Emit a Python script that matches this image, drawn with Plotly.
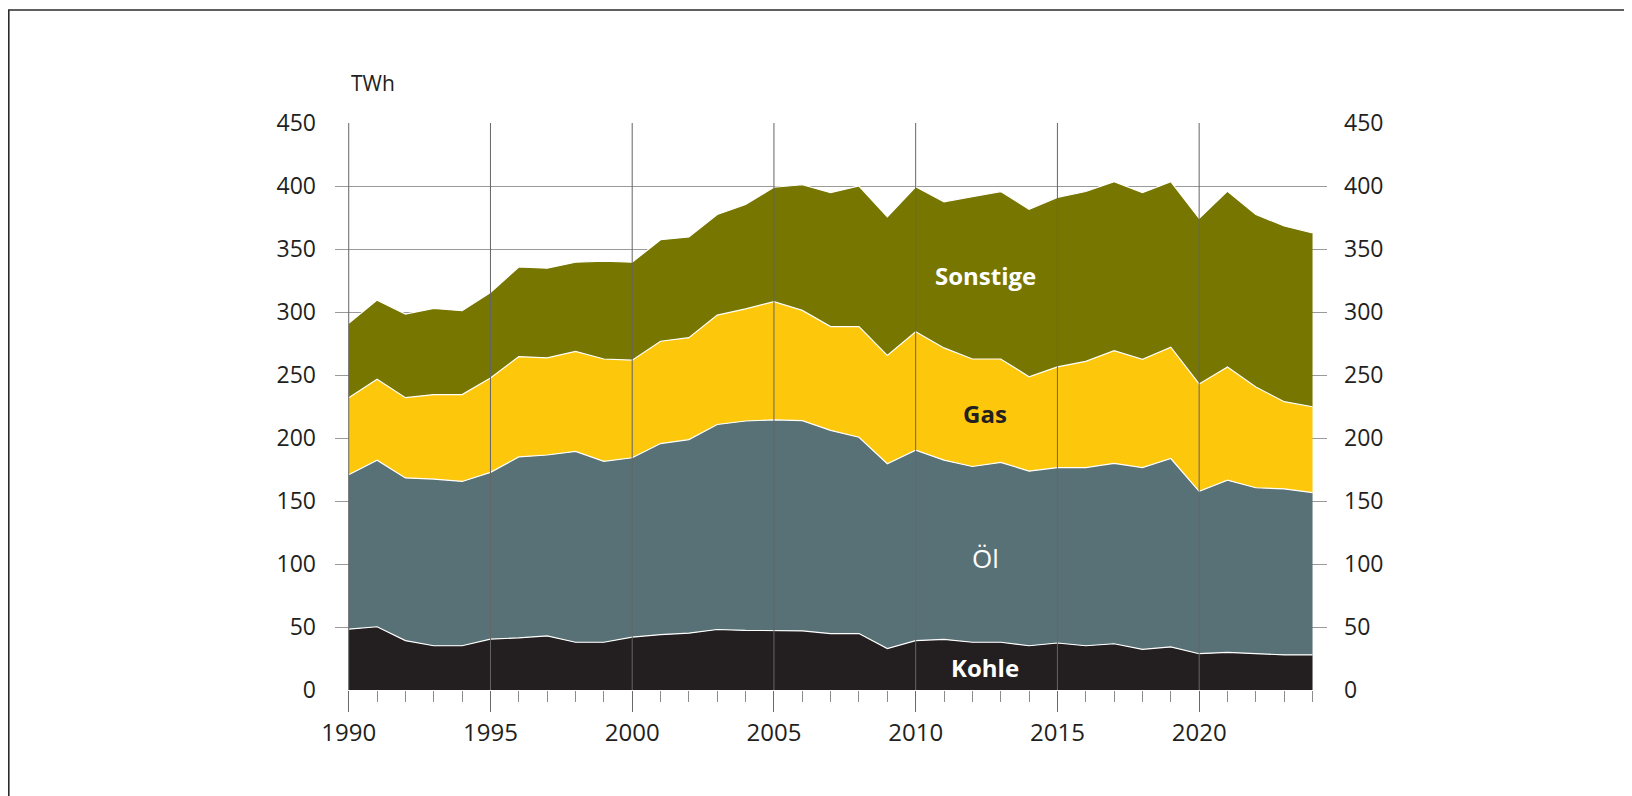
import plotly.graph_objects as go

years = list(range(1990, 2025))
kohle = [48.3, 50.2, 39.2, 35.1, 35.1, 40.4, 41.4, 42.9, 37.9, 37.9, 42.0, 43.9, 45.1, 48.0, 47.3,
         47.0, 47.0, 44.8, 44.8, 32.9, 39.2, 40.1, 37.9, 37.9, 35.1, 37.3, 35.1, 36.7, 32.3, 34.2,
         28.8, 29.8, 28.8, 27.9, 27.9]
oel = [122.5, 132.2, 129.1, 132.3, 130.4, 132.3, 143.6, 143.6, 151.4, 143.6, 142.3, 151.7, 153.6, 162.7, 166.2,
       167.4, 166.8, 161.2, 155.8, 146.7, 151.1, 142.3, 139.5, 142.7, 138.6, 139.2, 141.4, 143.2, 144.2, 149.5,
       128.9, 136.7, 131.7, 131.7, 128.8]
gas = [61.2, 64.3, 63.7, 67.1, 69.0, 74.9, 79.6, 77.1, 79.4, 81.2, 77.5, 81.2, 80.9, 86.8, 89.0,
       93.8, 87.5, 82.4, 87.8, 85.9, 94.0, 89.1, 85.3, 82.1, 74.9, 79.9, 84.3, 89.4, 85.9, 88.4,
       85.2, 89.9, 79.9, 69.2, 68.1]
sonstige = [59.0, 62.7, 66.4, 68.3, 66.5, 67.8, 71.1, 71.2, 70.8, 77.7, 77.7, 80.6, 80.0, 79.9, 82.8,
            90.8, 99.7, 106.3, 111.6, 110.0, 115.1, 116.0, 128.8, 132.9, 132.9, 134.6, 134.8, 134.1, 132.3, 131.3,
            131.4, 139.5, 137.0, 139.5, 137.9]

series_names = ["Kohle", "Öl", "Gas", "Sonstige"]
series_values = [kohle, oel, gas, sonstige]
series_colors = ["#231f20", "#587176", "#fdc70c", "#767600"]

major_years = [1990, 1995, 2000, 2005, 2010, 2015, 2020]
y_ticks = [0, 50, 100, 150, 200, 250, 300, 350, 400, 450]

# label positions (year, value) and styling
label_pos = {"Sonstige": (2012.45, 329), "Gas": (2012.45, 219.4), "Öl": (2012.45, 105), "Kohle": (2012.45, 18.2)}
label_style = {"Sonstige": ("white", 700), "Gas": ("#231f20", 700), "Öl": ("white", 500), "Kohle": ("white", 700)}

FONT = "Open Sans"
TXT = "#231f20"

fig = go.Figure()
for name, vals, col in zip(series_names, series_values, series_colors):
    fig.add_trace(go.Scatter(
        x=years, y=vals, name=name, stackgroup="one", mode="lines",
        line=dict(color="white", width=1.2), fillcolor=col, hoverinfo="x+y+name",
    ))

# invisible trace to anchor the right axis
fig.add_trace(go.Scatter(x=[years[0]], y=[0], yaxis="y2", mode="markers",
                         marker=dict(opacity=0), showlegend=False, hoverinfo="skip"))

for yr in major_years:
    fig.add_shape(type="line", xref="x", yref="y", x0=yr, x1=yr, y0=0, y1=y_ticks[-1],
                  line=dict(color="#656565", width=1), layer="above")

# page has an 8px body margin; figure sized to reach the window's right/bottom edges
OFF = 8
W, H = 1632 - OFF, 796 - OFF
ml = 335 - OFF
mr = W - (1327 - OFF)
mt = 123 - OFF
mb = H - (690 - OFF)
pw, ph = W - ml - mr, H - mt - mb
def px_to_paper_x(px):  # px in page coords
    return (px - OFF - ml) / pw
def px_to_paper_y(py):
    return (H - mb - (py - OFF)) / ph

# figure frame (left + top edges visible)
fig.add_shape(type="rect", xref="paper", yref="paper",
              x0=px_to_paper_x(8.8), x1=px_to_paper_x(1700),
              y0=px_to_paper_y(900), y1=px_to_paper_y(10),
              line=dict(color="#2b2b2b", width=1.6), fillcolor="rgba(0,0,0,0)", layer="below")

for name, (xv, yv) in label_pos.items():
    col, wt = label_style[name]
    fig.add_annotation(x=xv, y=yv, xref="x", yref="y", text=name,
                       showarrow=False,
                       font=dict(family=FONT, size=24 if wt == 700 else 26, color=col, weight=wt))

fig.add_annotation(x=years[0], xref="x", xanchor="left", y=px_to_paper_y(83), yref="paper",
                   yanchor="middle", text="TWh", showarrow=False,
                   font=dict(family=FONT, size=21, color=TXT))

fig.update_layout(
    width=W, height=H,
    margin=dict(l=ml, r=mr, t=mt, b=mb, autoexpand=False),
    paper_bgcolor="white", plot_bgcolor="white",
    showlegend=False,
    font=dict(family=FONT, size=23, color=TXT),
    xaxis=dict(range=[1989.516, 2024.51], showgrid=False, zeroline=False, showline=False,
               tickmode="array", tickvals=major_years, ticktext=[str(y) for y in major_years],
               ticks="outside", ticklen=21, tickwidth=1, tickcolor="#6a6a6a",
               minor=dict(tickmode="array", tickvals=years, ticks="outside", ticklen=11,
                          tickwidth=1, tickcolor="#8c8c8c"),
               ticklabelstandoff=0,
               tickfont=dict(family=FONT, size=24, color=TXT)),
    yaxis=dict(range=[0, 450], tickvals=y_ticks, showgrid=True, gridcolor="#9a9a9a", gridwidth=1.2,
               zeroline=False, showline=False, ticks="", ticklabelstandoff=18,
               tickfont=dict(family=FONT, size=23, color=TXT)),
    yaxis2=dict(range=[0, 450], tickvals=y_ticks, overlaying="y", side="right", showgrid=False,
                zeroline=False, showline=False, ticks="", ticklabelstandoff=16,
                tickfont=dict(family=FONT, size=23, color=TXT)),
)

fig.write_html("out.html")
